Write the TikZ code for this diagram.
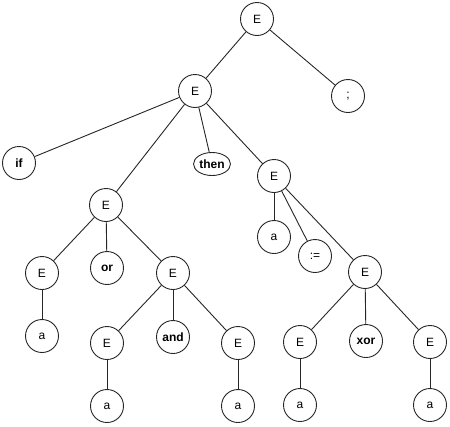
\documentclass[tikz,border=0pt]{standalone}
\usepackage{fontspec}
\setmainfont{Liberation Sans}
\usetikzlibrary{shapes.geometric}
\begin{document}
\begin{tikzpicture}[x=1pt,y=-1pt,
  nd/.style={circle,draw=black!85,line width=0.9pt,minimum size=33pt,inner sep=0pt,font=\fontsize{12}{14}\selectfont},
  bnd/.style={nd,font=\fontsize{12}{14}\selectfont\bfseries},
  ell/.style={ellipse,draw=black!85,line width=0.9pt,minimum width=37pt,minimum height=23pt,inner sep=0pt,font=\fontsize{12}{14}\selectfont\bfseries},
  edge/.style={draw=black!85,line width=0.9pt}]
\useasboundingbox (0,0) rectangle (450,426);
\node[nd] (r) at (257,19) {E};
\node[nd] (semi) at (348,96) {;};
\node[nd] (e1) at (195,91) {E};
\node[bnd] (if) at (19,163) {if};
\node[ell] (then) at (212,164) {then};
\node[nd] (er) at (274,176) {E};
\node[nd] (el) at (106,205) {E};
\node[nd] (ra) at (274,237) {a};
\node[nd] (asg) at (315,256) {:=};
\node[nd] (ex) at (365,272) {E};
\node[nd] (ell) at (42,273) {E};
\node[bnd] (or) at (107,268) {or};
\node[nd] (ea) at (173,273) {E};
\node[nd] (a1) at (42,336) {a};
\node[nd] (ea1) at (107,343) {E};
\node[bnd] (and) at (173,337) {and};
\node[nd] (ea2) at (238,343) {E};
\node[nd] (ex1) at (300,342) {E};
\node[bnd] (xor) at (366,341) {xor};
\node[nd] (ex2) at (430,342) {E};
\node[nd] (a2) at (107,406) {a};
\node[nd] (a3) at (238,406) {a};
\node[nd] (a4) at (300,405) {a};
\node[nd] (a5) at (430,405) {a};
\path[edge] (r) -- (e1);
\path[edge] (r) -- (semi);
\path[edge] (e1) -- (if);
\path[edge] (e1) -- (el);
\path[edge] (e1) -- (then);
\path[edge] (e1) -- (er);
\path[edge] (er) -- (ra);
\path[edge] (er) -- (asg);
\path[edge] (er) -- (ex);
\path[edge] (el) -- (ell);
\path[edge] (el) -- (or);
\path[edge] (el) -- (ea);
\path[edge] (ell) -- (a1);
\path[edge] (ea) -- (ea1);
\path[edge] (ea) -- (and);
\path[edge] (ea) -- (ea2);
\path[edge] (ea1) -- (a2);
\path[edge] (ea2) -- (a3);
\path[edge] (ex) -- (ex1);
\path[edge] (ex) -- (xor);
\path[edge] (ex) -- (ex2);
\path[edge] (ex1) -- (a4);
\path[edge] (ex2) -- (a5);
\end{tikzpicture}
\end{document}
